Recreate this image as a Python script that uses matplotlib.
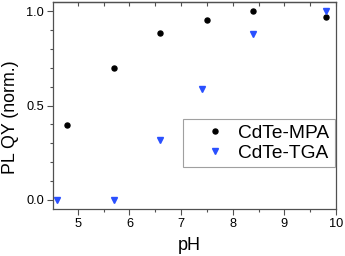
import matplotlib
matplotlib.use("Agg")
import matplotlib.pyplot as plt
from matplotlib.ticker import MultipleLocator

plt.rcParams['font.family'] = ['Liberation Sans', 'DejaVu Sans']

ph_mpa = [4.8, 5.7, 6.6, 7.5, 8.4, 9.8]
qy_mpa = [0.395, 0.70, 0.882, 0.951, 1.0, 0.966]
ph_tga = [4.6, 5.7, 6.6, 7.4, 8.4, 9.8]
qy_tga = [0.0, 0.0, 0.316, 0.589, 0.880, 1.0]

fig = plt.figure(figsize=(3.45, 2.56), dpi=100)
ax = fig.add_axes([53/345, 47/256, 283/345, 207/256])

ax.plot(ph_mpa, qy_mpa, 'o', color='black', markersize=3.6, label='CdTe-MPA', linestyle='none')
ax.plot(ph_tga, qy_tga, 'v', color='#2a50ff', markersize=4.2, label='CdTe-TGA', linestyle='none')

ax.set_xlim(4.52, 10.0)
ax.set_ylim(-0.048, 1.048)
ax.xaxis.set_major_locator(MultipleLocator(1))
ax.xaxis.set_minor_locator(MultipleLocator(0.5))
ax.yaxis.set_major_locator(MultipleLocator(0.5))
ax.yaxis.set_minor_locator(MultipleLocator(0.1))

spine_c = '#505050'
for s in ax.spines.values():
    s.set_color(spine_c)
    s.set_linewidth(0.9)

ax.tick_params(axis='both', which='major', direction='out', length=4, width=0.8,
               color=spine_c, labelsize=9.2, pad=2.5, top=False, right=False)
ax.tick_params(axis='both', which='minor', direction='out', length=2.5, width=0.8,
               color=spine_c, top=False, right=False)

sec = ax.secondary_xaxis('top')
sec.xaxis.set_major_locator(MultipleLocator(0.5))
sec.tick_params(direction='in', length=3, width=0.8, color=spine_c, labeltop=False)
sec.spines['top'].set_color(spine_c)
sec.spines['top'].set_linewidth(0.9)

ax.set_yticks([0.0, 0.5, 1.0])
ax.set_yticklabels(['0.0', '0.5', '1.0'])

ax.set_xlabel('pH', fontsize=13)
ax.set_ylabel('PL QY (norm.)', fontsize=12.8)
ax.xaxis.set_label_coords(0.48, -0.134)
ax.yaxis.set_label_coords(-0.121, 0.442)

leg = ax.legend(loc='upper right', bbox_to_anchor=(0.996, 0.435), borderaxespad=0,
                fontsize=13.8, frameon=True, fancybox=False, framealpha=1,
                edgecolor='#a0a0a0', borderpad=0.28, labelspacing=0.15,
                handlelength=2.8, handletextpad=-0.17, markerscale=1.0)
leg.get_frame().set_linewidth(0.8)

fig.savefig('out.png', dpi=100)
